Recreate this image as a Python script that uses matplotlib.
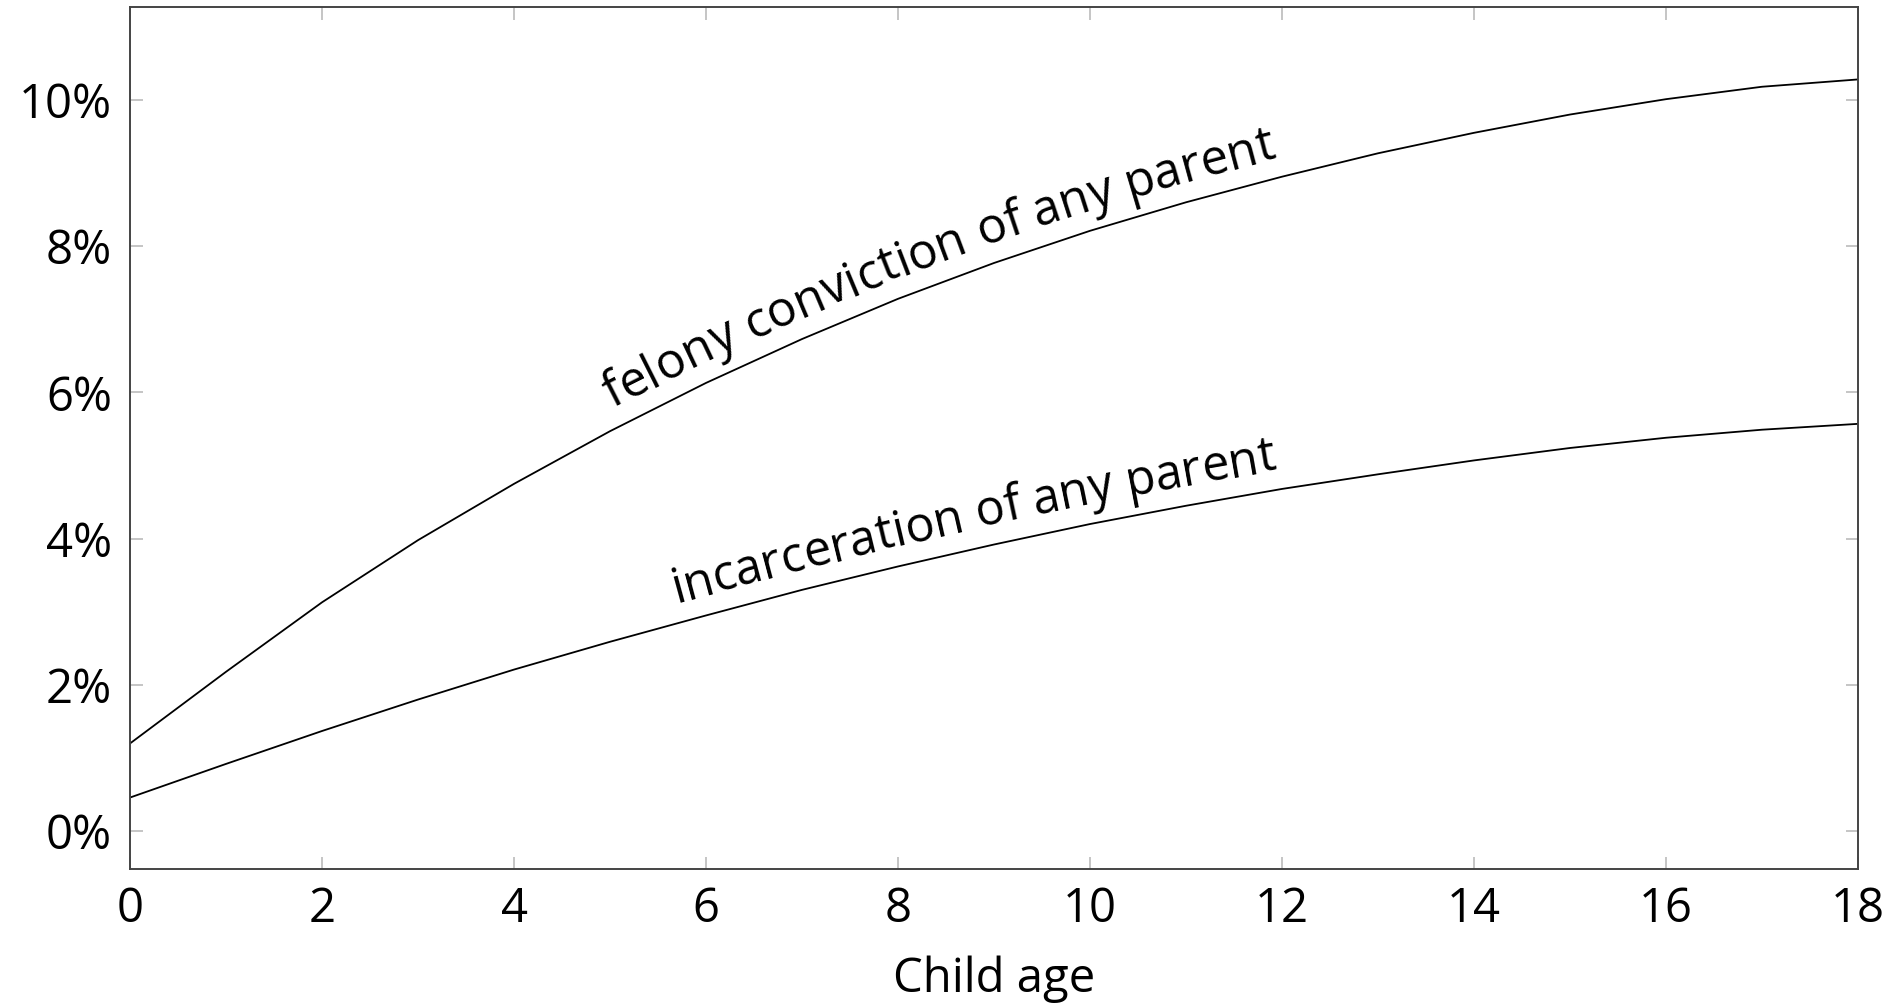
import numpy as np
import matplotlib.pyplot as plt
from matplotlib.font_manager import FontProperties
from matplotlib.ticker import FuncFormatter

plt.rcParams['font.family'] = ['Open Sans', 'DejaVu Sans']

ages = [0, 1, 2, 3, 4, 5, 6, 7, 8, 9, 10, 11, 12, 13, 14, 15, 16, 17, 18]
felony = [1.20, 2.18, 3.13, 3.98, 4.75, 5.47, 6.13, 6.73, 7.28, 7.77, 8.21, 8.60,
          8.95, 9.27, 9.55, 9.80, 10.01, 10.18, 10.28]
incarceration = [0.46, 0.92, 1.37, 1.80, 2.21, 2.59, 2.95, 3.30, 3.62, 3.92, 4.20,
                 4.45, 4.68, 4.88, 5.07, 5.24, 5.38, 5.49, 5.57]

x_ticks = [0, 2, 4, 6, 8, 10, 12, 14, 16, 18]
y_ticks = [0, 2, 4, 6, 8, 10]

felony_label = "felony conviction of any parent"
incarceration_label = "incarceration of any parent"


def text_on_curve(ax, xs, ys, x_start, label, size, offset):
    # lay the label letter by letter along the curve, a few pixels above it
    renderer = ax.figure.canvas.get_renderer()
    prop = FontProperties(family=['Open Sans', 'DejaVu Sans'], size=size)

    def width(s):
        return renderer.get_text_width_height_descent(s, prop, ismath=False)[0]

    pts = ax.transData.transform(np.column_stack([xs, ys]))
    seg = np.hypot(np.diff(pts[:, 0]), np.diff(pts[:, 1]))
    arc = np.concatenate([[0], np.cumsum(seg)])

    def point_at(s):
        return np.interp(s, arc, pts[:, 0]), np.interp(s, arc, pts[:, 1])

    x0 = ax.transData.transform((x_start, 0))[0]
    s0 = np.interp(x0, pts[:, 0], arc)
    inv = ax.transData.inverted()

    for i, ch in enumerate(label):
        if ch == " ":
            continue
        s = s0 + width(label[:i + 1]) - width(ch) / 2
        xa, ya = point_at(s - 30)
        xb, yb = point_at(s + 30)
        ang = np.arctan2(yb - ya, xb - xa)
        px, py = point_at(s)
        px -= offset * np.sin(ang)
        py += offset * np.cos(ang)
        dx, dy = inv.transform((px, py))
        ax.text(dx, dy, ch, fontproperties=prop, rotation=np.degrees(ang),
                ha="center", va="baseline", rotation_mode="anchor")


def main():
    fig = plt.figure(figsize=(18.88, 10.06), dpi=100)
    ax = fig.add_axes([0.0689, 0.136, 0.9152, 0.857])

    ax.plot(ages, felony, color="black", linewidth=1.3)
    ax.plot(ages, incarceration, color="black", linewidth=1.3)

    ax.set_xlim(0, 18)
    ax.set_ylim(-0.52, 11.27)
    ax.set_xticks(x_ticks)
    ax.set_yticks(y_ticks)
    ax.yaxis.set_major_formatter(FuncFormatter(lambda v, pos: f"{v:.0f}%"))

    ax.tick_params(direction="in", length=9, width=1.2, color="#bbbbbb",
                   top=True, right=True, labelsize=34)
    ax.tick_params(axis="x", pad=12)
    ax.tick_params(axis="y", pad=13)
    for spine in ax.spines.values():
        spine.set_color("#444444")
        spine.set_linewidth(1.4)

    ax.set_xlabel("Child age", fontsize=34, labelpad=16)

    fig.canvas.draw()
    text_on_curve(ax, ages, felony, 5.12, felony_label, 35.5, 20)
    text_on_curve(ax, ages, incarceration, 5.74, incarceration_label, 35, 20)

    fig.savefig("out.png", dpi=100)


if __name__ == "__main__":
    main()
